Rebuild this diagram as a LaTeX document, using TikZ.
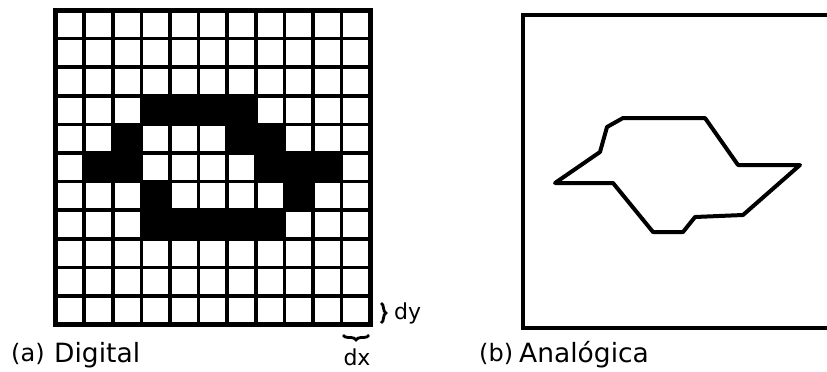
\documentclass[tikz,border=0pt]{standalone}
\usepackage{fontspec}
\setmainfont{DejaVu Sans}
\usetikzlibrary{
  positioning,
  decorations.pathreplacing
}
\tikzset{
  gridline/.style={line width=3.6pt, black, line cap=rect},
  gridborder/.style={line width=5pt, black},
  pixel/.style={fill=black},
  framebox/.style={line width=3.8pt, black},
  outline/.style={line width=4pt, black, line join=round},
  caption/.style={font=\fontsize{26.5}{30}\selectfont, anchor=base west, inner sep=0pt},
  tagletter/.style={caption, font=\fontsize{24}{28}\selectfont},
  sizelabel/.style={font=\fontsize{22}{26}\selectfont, inner sep=0pt},
  brace/.style={decorate, decoration={brace, amplitude=5pt}, line width=2.8pt}
}

\begin{document}
\begin{tikzpicture}[x=1pt, y=-1pt]
  \useasboundingbox (0,0) rectangle (827,372);
  % (a) digital grid
  \foreach \r/\c in {3/3,3/4,3/5,3/6,4/2,4/6,4/7,5/1,5/2,5/7,5/8,5/9,6/3,6/8,7/3,7/4,7/5,7/6,7/7}{
    \fill[pixel] ({55.5+\c*28.6},{10+\r*28.6}) rectangle ++(28.6,28.6);
  }
  \foreach \i in {1,...,10}{
    \draw[gridline] ({55.5+\i*28.6},10) -- ++(0,314.6);
    \draw[gridline] (55.5,{10+\i*28.6}) -- ++(314.6,0);
  }
  \draw[gridborder] (55.5,10) rectangle (370.1,324.6);
  \coordinate (dytop) at (381,303);
  \coordinate (dybot) at (381,323);
  \coordinate (dxright) at (369,335);
  \coordinate (dxleft) at (343,335);
  \draw[brace] (dytop) -- (dybot);
  \draw[brace] (dxright) -- (dxleft);
  \node[sizelabel, anchor=base west] (dy) at (394,319) {dy};
  \node[sizelabel, anchor=north] (dx) at (357,349) {dx};
  \node[tagletter] (capa) at (11,361) {(a)};
  \node[caption] (digital) at (54,362) {Digital};
  % (b) analog contour
  \draw[framebox] (830,15) -- (523,15) -- (523,328) -- (830,328);
  \draw[outline] (555,183) -- (600,152) -- (607,127) -- (623,118) -- (705,118)
    -- (738,165) -- (800,165) -- (743,215) -- (695,217) -- (683,232)
    -- (653,232) -- (613,183) -- cycle;
  \node[tagletter] (capb) at (479,361) {(b)};
  \node[caption] (analog) at (519,362) {Analógica};
\end{tikzpicture}
\end{document}
